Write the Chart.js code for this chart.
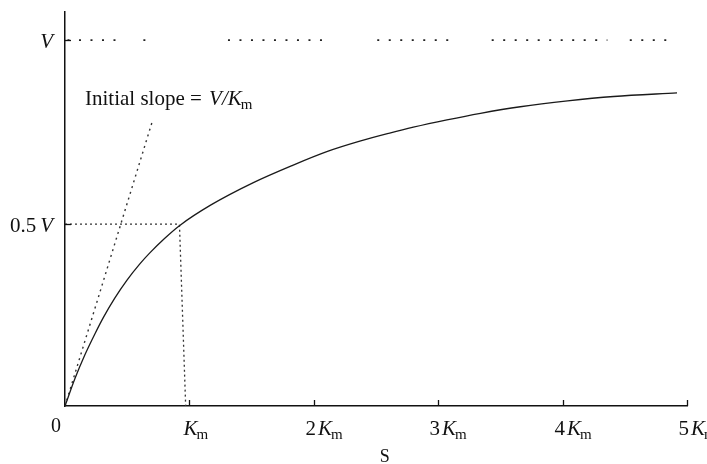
<!DOCTYPE html>
<html>
<head>
<meta charset="utf-8">
<script src="https://cdn.jsdelivr.net/npm/chart.js@4/dist/chart.umd.min.js"></script>
<style>
  body { margin: 0; background: #fff; }
  canvas { display: block; }
</style>
</head>
<body>
<canvas id="mmChart" width="707" height="464"></canvas>
<script>
// values: S in units of Km, v in units of V
const curveS = [0, 0.08, 0.16, 0.24, 0.31, 0.40, 0.50, 0.60, 0.68, 0.80, 0.92, 1.17, 1.51, 1.83, 2.11, 2.37, 2.61, 2.80, 3.07, 3.34, 3.66, 4.04, 4.41, 4.92];
const curveV = [0, 0.075, 0.140, 0.197, 0.243, 0.295, 0.345, 0.388, 0.418, 0.458, 0.493, 0.549, 0.610, 0.658, 0.696, 0.724, 0.746, 0.762, 0.782, 0.800, 0.818, 0.834, 0.846, 0.856];

// initial slope line
const slopeS = [0, 0.70];
const slopeV = [0, 0.776];

// dotted V asymptote, broken in places like the printed figure (null = gap)
const vLineS = [0.02, 0.44, null, 0.63, 0.72, null, 1.31, 2.13, null, 2.51, 3.15, null, 3.43, 4.36, null, 4.54, 4.86];
const vLineLevel = 1;

// half-maximum guide: across to the curve, then down to Km
const halfS = [0, 0.92, 0.97];
const halfV = [0.497, 0.497, 0];

// tick positions and labels
const xTicks = [1, 2, 3, 4, 5];
const xTickPrefix = ['', '2', '3', '4', '5'];
const yTicks = [0.497, 1];
const yTickLabels = ['0.5', ''];

const serif = '"Liberation Serif", "DejaVu Serif", serif';

function toPoints(xs, ys) {
  return xs.map((x, i) => (x === null ? { x: NaN, y: null } : { x: x, y: ys[i] }));
}

// "nK_m" style label: prefix upright, K italic, m as subscript
function drawKm(ctx, prefix, x, y) {
  ctx.textAlign = 'left';
  ctx.textBaseline = 'alphabetic';
  ctx.font = '21px ' + serif;
  ctx.fillText(prefix, x, y);
  x += ctx.measureText(prefix).width + (prefix ? 2 : 0);
  ctx.font = 'italic 21px ' + serif;
  ctx.fillText('K', x, y);
  x += ctx.measureText('K').width - 1;
  ctx.font = '15px ' + serif;
  ctx.fillText('m', x, y + 4);
}

const annotations = {
  id: 'annotations',
  afterDraw(chart) {
    const ctx = chart.ctx;
    const xs = chart.scales.x;
    const ys = chart.scales.y;
    const x0 = xs.getPixelForValue(0);
    const y0 = ys.getPixelForValue(0);
    ctx.save();
    ctx.fillStyle = '#111';
    ctx.strokeStyle = '#111';
    ctx.lineWidth = 1.3;

    // x tick marks (pointing up) and labels
    xTicks.forEach((t, i) => {
      const px = Math.round(xs.getPixelForValue(t)) + 0.5;
      ctx.beginPath();
      ctx.moveTo(px, y0);
      ctx.lineTo(px, y0 - 6);
      ctx.stroke();
      drawKm(ctx, xTickPrefix[i], px - (xTickPrefix[i] ? 9 : 6), y0 + 29);
    });

    // y tick marks (pointing right) and labels
    yTicks.forEach((t, i) => {
      const py = Math.round(ys.getPixelForValue(t)) + 0.5;
      ctx.beginPath();
      ctx.moveTo(x0, py);
      ctx.lineTo(x0 + 6, py);
      ctx.stroke();
      ctx.textBaseline = 'middle';
      ctx.textAlign = 'right';
      ctx.font = 'italic 21px ' + serif;
      ctx.fillText('V', x0 - 12, py + 2);
      const vw = ctx.measureText('V').width;
      ctx.font = '21px ' + serif;
      ctx.fillText(yTickLabels[i], x0 - 16 - vw, py + 2);
    });

    // origin label
    ctx.font = '20px ' + serif;
    ctx.textAlign = 'center';
    ctx.textBaseline = 'alphabetic';
    ctx.fillText('0', x0 - 9, y0 + 26);

    // axis title
    ctx.font = '18px ' + serif;
    ctx.fillText('S', xs.getPixelForValue(2.57), 462);

    // slope annotation
    let tx = 85;
    const ty = 105;
    ctx.textAlign = 'left';
    ctx.font = '21px ' + serif;
    const lead = 'Initial slope = ';
    ctx.fillText(lead, tx, ty);
    tx += ctx.measureText(lead).width + 2;
    ctx.font = 'italic 21px ' + serif;
    ctx.fillText('V/K', tx, ty);
    tx += ctx.measureText('V/K').width - 1;
    ctx.font = '15px ' + serif;
    ctx.fillText('m', tx, ty + 4);
    ctx.restore();
  }
};

new Chart(document.getElementById('mmChart'), {
  type: 'line',
  data: {
    datasets: [
      {
        label: 'v',
        data: toPoints(curveS, curveV),
        borderColor: '#1a1a1a',
        borderWidth: 1.3,
        cubicInterpolationMode: 'monotone',
        pointRadius: 0
      },
      {
        label: 'slope',
        data: toPoints(slopeS, slopeV),
        borderColor: '#333',
        borderWidth: 1.4,
        borderDash: [2, 4],
        pointRadius: 0
      },
      {
        label: 'Vmax',
        data: toPoints(vLineS, vLineS.map(s => (s === null ? null : vLineLevel))),
        borderColor: '#222',
        borderWidth: 1.6,
        borderDash: [2, 9.5],
        spanGaps: false,
        pointRadius: 0
      },
      {
        label: 'half',
        data: toPoints(halfS, halfV),
        borderColor: '#333',
        borderWidth: 1.3,
        borderDash: [2, 3],
        pointRadius: 0
      }
    ]
  },
  options: {
    responsive: false,
    devicePixelRatio: 1,
    animation: false,
    layout: { padding: { left: 65, right: 20, top: 12, bottom: 58 } },
    plugins: {
      legend: { display: false },
      tooltip: { enabled: false }
    },
    scales: {
      x: {
        type: 'linear',
        min: 0,
        max: 5,
        ticks: { display: false },
        grid: { display: false, drawTicks: false },
        border: { display: true, color: '#111', width: 1.5 }
      },
      y: {
        type: 'linear',
        min: 0,
        max: 1.077,
        ticks: { display: false },
        grid: { display: false, drawTicks: false },
        border: { display: true, color: '#111', width: 1.5 }
      }
    }
  },
  plugins: [annotations]
});
</script>
</body>
</html>
